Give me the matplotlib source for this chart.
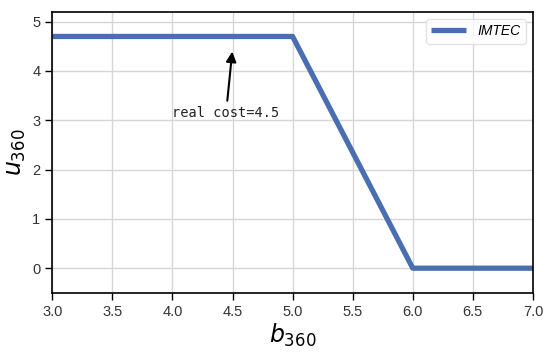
import numpy as np
import matplotlib
matplotlib.use("Agg")
import matplotlib.pyplot as plt

# data
b_vals = [3.0, 5.0, 6.0, 7.0]
u_vals = [4.7, 4.7, 0.0, 0.0]
x_ticks = [3.0, 3.5, 4.0, 4.5, 5.0, 5.5, 6.0, 6.5, 7.0]
y_ticks = [0, 1, 2, 3, 4, 5]
note_xy = (4.5, 4.45)
note_text_xy = (4.0, 3.0)

plt.rcParams['font.family'] = ['Liberation Sans', 'DejaVu Sans']
plt.rcParams['mathtext.fontset'] = 'dejavusans'

fig = plt.figure(figsize=(5.5, 3.58), dpi=100)
ax = fig.add_axes([0.095, 0.182, 0.874, 0.785])

ax.plot(b_vals, u_vals, color='#4a6fb0', lw=3.8, label='IMTEC', solid_capstyle='butt')
ax.annotate('real cost=4.5', xy=note_xy, xytext=note_text_xy,
            fontsize=9.8, family='DejaVu Sans Mono', color='#222222',
            arrowprops=dict(arrowstyle='-|>', color='black', lw=1.5, mutation_scale=15),
            ha='left', va='bottom')

ax.set_xlim(3.0, 7.0)
ax.set_ylim(-0.5, 5.2)
ax.set_xticks(x_ticks)
ax.set_xticklabels([f'{v:.1f}' for v in x_ticks])
ax.set_yticks(y_ticks)
ax.grid(True, color='#d6d6d6', lw=1.0)
ax.set_axisbelow(True)
for s in ax.spines.values():
    s.set_color('black')
    s.set_linewidth(1.2)
ax.tick_params(axis='both', direction='out', length=5, width=1.0, labelsize=10.5, colors='black', labelcolor='#333333')

ax.set_xlabel('$b_{360}$', fontsize=17, labelpad=2)
ax.set_ylabel('$u_{360}$', fontsize=17, labelpad=3)

leg = ax.legend(loc='upper right', prop={'style': 'italic', 'size': 10}, handlelength=2.5, frameon=True)
leg.get_frame().set_edgecolor('#dddddd')

fig.savefig('out.png', dpi=100)
